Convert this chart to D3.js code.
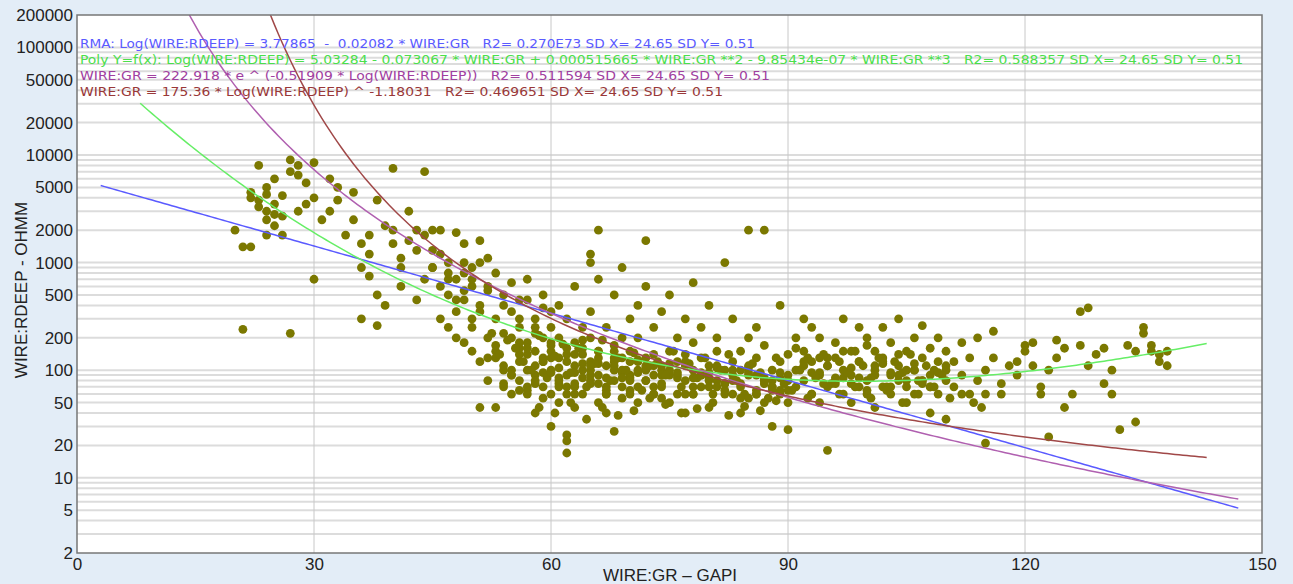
<!DOCTYPE html>
<html><head><meta charset="utf-8">
<script src="https://cdn.jsdelivr.net/npm/d3@7"></script>
<style>body{margin:0;background:#e3edf7;}svg{display:block}</style>
</head><body><svg id="c" width="1293" height="584"></svg>
<script>
const xTicks=[0,30,60,90,120,150];
const yTicks=[2,5,10,20,50,100,200,500,1000,2000,5000,10000,20000,50000,100000,200000];
const legendTexts=[
"RMA: Log(WIRE:RDEEP) = 3.77865  -  0.02082 * WIRE:GR   R2= 0.270E73 SD X= 24.65 SD Y= 0.51",
"Poly Y=f(x): Log(WIRE:RDEEP) = 5.03284 - 0.073067 * WIRE:GR + 0.000515665 * WIRE:GR **2 - 9.85434e-07 * WIRE:GR **3   R2= 0.588357 SD X= 24.65 SD Y= 0.51",
"WIRE:GR = 222.918 * e ^ (-0.51909 * Log(WIRE:RDEEP))   R2= 0.511594 SD X= 24.65 SD Y= 0.51",
"WIRE:GR = 175.36 * Log(WIRE:RDEEP) ^ -1.18031   R2= 0.469651 SD X= 24.65 SD Y= 0.51"];
const legendColors=["#5a5aff","#4be04b","#a040a0","#993838"];
const legendLens=[675,1163,690,643];
// fit coefficients shown in legend
const rmaCoef=[3.77865,-0.02082];
const polyCoef=[5.03284,-0.073067,0.000515665,-9.85434e-7];
const expCoef=[222.918,-0.51909];
const powCoef=[175.36,-1.18031];
const gr=[20,21,22,22,23,23,24,24,24,25,25,25,26,26,27,27,28,28,28,29,29,30,30,31,32,32,33,33,34,35,35,21,27,30,24,26,23,24,22,25,
36,36,37,37,38,38,39,40,40,41,41,42,42,43,43,44,44,45,45,36,38,37,39,40,41,43,44,45,46,46,47,47,48,48,49,49,50,50,51,51,
46,47,48,48,49,49,50,50,51,51,52,52,52,53,53,54,54,55,55,55,53,54,51,47,49,50,52,54,56,53,
56,56,56,56,57,57,57,57,58,58,58,58,59,59,59,59,60,60,60,60,60,61,61,61,61,61,62,62,62,62,62,62,63,63,63,63,63,64,64,64,64,65,65,65,65,65,65,66,66,66,66,66,67,67,67,67,68,68,68,68,68,69,69,69,69,70,70,70,70,71,71,71,71,72,72,72,72,73,73,73,74,74,74,75,75,75,75,
57,58,59,60,61,62,63,64,65,66,67,68,69,70,71,72,73,74,56,58,60,62,64,66,68,70,72,74,57,59,61,63,65,67,69,71,73,55,
76,76,76,77,77,77,77,78,78,78,78,79,79,79,80,80,80,80,81,81,81,82,82,82,83,83,83,84,84,84,85,85,85,85,86,86,86,87,87,87,87,88,88,88,89,89,89,90,90,90,90,
76,78,80,82,84,86,88,77,79,81,83,85,87,89,
91,91,91,92,92,92,93,93,93,94,94,94,95,95,95,96,96,96,97,97,97,98,98,98,99,99,99,100,100,100,101,101,101,102,102,102,103,103,103,104,104,104,105,105,105,106,106,106,107,107,107,108,108,108,109,109,109,110,110,110,
92,94,96,98,100,102,104,106,108,93,95,97,99,101,103,105,107,
110,111,111,112,112,113,113,114,114,115,115,115,116,116,117,117,118,119,119,120,120,121,121,122,122,123,123,124,124,125,125,126,127,127,128,128,129,130,130,131,131,132,133,134,134,135,135,136,136,137,137,138,138,
52,53,54,55,56,57,58,59,60,61,62,63,64,65,66,67,68,69,70,71,72,73,74,75,76,77,78,79,80,81,82,83,84,85,86,87,88,89,90,
52.5,53.5,54.5,55.5,56.5,57.5,58.5,59.5,60.5,61.5,62.5,63.5,64.5,65.5,66.5,67.5,68.5,69.5,70.5,71.5,72.5,73.5,74.5,75.5,76.5,77.5,78.5,79.5,80.5,81.5,82.5,83.5,84.5,85.5,86.5,87.5,88.5,89.5,
54,56,58,60,62,64,66,68,70,72,74,76,78,80,82,84,86,88,90,55,57,59,61,63,65,67,69,71,73,75,77,79,81,83,85,87,89,
91.5,92.5,93.5,94.5,95.5,96.5,97.5,98.5,99.5,100.5,101.5,102.5,103.5,104.5,105.5,106.5,107.5,108.5,109.5,
91,92,93,94,95,96,97,98,99,100,101,102,103,104,105,106,107,108,109,110,
90.5,92.5,94.5,96.5,98.5,100.5,102.5,104.5,106.5,108.5,110.5,112,113.5,114.5,
58.5,60.5,62.5,64.5,66.5,68.5,70.5,72.5,74.5,76.5,78.5,80.5,82.5,84.5,86.5,88.5,
45,46,47,48,49,50,51,52,53,54,55,56,57,58,59,60];
const rdeep=[2000,1400,1400,4000,3800,8000,3000,2500,5000,6000,2200,3500,4200,2700,9000,7000,8000,6500,3000,5500,3500,4000,8500,2500,3000,6000,5000,3800,1800,2500,4500,240,220,700,1800,1800,3300,4300,4500,2800,
1500,900,1200,750,3800,500,2200,7500,2000,1100,600,3000,1600,1300,450,7000,700,2000,1300,300,260,1800,400,1500,900,2000,1800,900,2000,1200,500,1000,1900,700,800,1500,300,600,1600,1000,
300,250,350,200,180,450,150,250,120,400,80,200,600,150,300,100,500,60,200,350,45,70,45,700,550,900,1100,220,160,130,
120,250,450,80,100,180,60,700,150,300,90,40,120,200,500,70,60,100,150,250,30,80,130,200,400,50,25,17,22,90,160,300,70,110,180,600,45,100,140,250,60,80,120,200,350,1200,1000,50,90,150,700,2000,110,60,250,40,100,170,80,500,27,130,200,70,900,150,90,60,300,120,200,50,400,100,80,1600,600,140,60,250,110,70,350,90,150,50,500,
140,110,95,130,85,120,75,160,100,115,70,130,95,85,125,105,90,100,180,220,170,140,190,130,150,120,110,90,65,55,70,60,75,65,55,70,60,100,
120,60,200,80,140,40,300,100,60,180,650,90,130,250,70,110,45,400,80,150,200,100,60,1000,120,80,300,70,150,40,90,110,200,2000,60,130,250,80,170,2000,50,100,70,30,120,60,400,90,140,50,28,
90,85,95,75,100,65,80,110,70,105,60,95,75,85,
100,70,200,80,150,300,60,120,250,90,200,50,110,70,18,130,80,180,60,100,300,90,150,50,120,70,250,80,200,60,100,150,45,70,130,250,90,60,180,110,80,300,70,150,50,100,200,60,130,80,260,90,70,40,120,60,200,100,80,35,
110,95,85,75,65,115,90,100,70,60,130,85,120,110,95,80,75,
150,120,70,180,90,60,130,200,80,60,100,21,230,130,75,60,110,90,120,170,150,180,110,70,60,24,100,190,130,160,45,60,350,170,380,110,140,160,75,60,100,28,170,33,150,250,220,170,150,140,120,150,110,
130,170,110,90,140,160,75,120,180,105,70,140,115,90,150,85,120,100,80,95,130,110,75,100,85,120,70,95,80,110,65,90,75,105,60,85,70,95,65,
220,140,190,160,120,100,210,85,135,175,95,160,70,115,190,80,130,100,145,65,110,120,90,150,70,115,85,130,60,100,140,80,60,115,95,55,130,75,
75,65,80,95,60,85,75,110,65,80,55,95,60,85,75,55,90,65,80,90,70,130,75,95,110,60,85,100,70,115,60,90,70,100,55,80,65,
100,130,85,140,75,120,95,150,110,85,130,70,120,95,140,80,110,100,90,
160,120,95,130,110,75,150,105,85,170,90,120,70,140,100,115,80,160,95,110,
65,55,75,60,70,55,65,50,60,70,55,60,50,45,
45,40,50,35,45,38,42,55,48,40,44,50,38,46,42,52,
900,600,800,450,1000,700,350,550,800,400,650,300,450,250,380,350];

const W=1293,H=584,L=77,R=1262,T=15,B=553;
const svg=d3.select("#c");
const x=d3.scaleLinear().domain([0,150]).range([L,R]);
const y=d3.scaleLog().domain([2,200000]).range([B,T]);
svg.append("rect").attr("x",L).attr("y",T).attr("width",R-L).attr("height",B-T).attr("fill","#fff");
const minors=[];
for(let e=0;e<=5;e++)for(let m=1;m<=9;m++){const v=m*Math.pow(10,e);if(v>2&&v<200000)minors.push(v);}
svg.append("g").selectAll("line").data(minors).join("line")
 .attr("x1",L).attr("x2",R).attr("y1",d=>y(d)).attr("y2",d=>y(d))
 .attr("stroke","#dcdcdc").attr("stroke-width",2);
svg.append("g").selectAll("line").data(xTicks.slice(1,-1)).join("line")
 .attr("x1",d=>x(d)).attr("x2",d=>x(d)).attr("y1",T).attr("y2",B).attr("stroke","#c8c8c8").attr("stroke-width",1);
const ya=svg.append("g").attr("transform",`translate(${L},0)`).call(d3.axisLeft(y).tickValues(yTicks).tickFormat(d3.format("d")).tickSize(0).tickPadding(4));
const xa=svg.append("g").attr("transform",`translate(0,${B})`).call(d3.axisBottom(x).tickValues(xTicks).tickSize(0).tickPadding(5));
[ya,xa].forEach(a=>{a.select(".domain").remove();a.selectAll("text").attr("font-family","Liberation Sans, Arial").attr("font-size",17).attr("fill","#222");});
svg.append("g").selectAll("circle").data(gr.map((g,i)=>[g,rdeep[i]])).join("circle")
 .attr("cx",d=>x(d[0])).attr("cy",d=>y(d[1])).attr("r",4.4).attr("fill","#7b7800");
svg.append("clipPath").attr("id","pc").append("rect").attr("x",L).attr("y",T).attr("width",R-L).attr("height",B-T);
const line=d3.line().x(d=>x(d[0])).y(d=>y(d[1]));
function samp(a,b,f){const p=[];for(let g=a;g<=b+1e-9;g+=0.5)p.push([g,f(g)]);return p;}
const curves=[
 [samp(3,147,g=>Math.pow(10,rmaCoef[0]+rmaCoef[1]*g)),legendColors[0]],
 [samp(8,143,g=>Math.pow(10,polyCoef[0]+polyCoef[1]*g+polyCoef[2]*g*g+polyCoef[3]*g*g*g)),"#66ee66"],
 [samp(12,147,g=>Math.pow(10,-Math.log(g/expCoef[0])/(-expCoef[1]))),"#b060b0"],
 [samp(20,143,g=>Math.pow(10,Math.pow(g/powCoef[0],1/powCoef[1]))),"#a04848"]];
svg.append("g").attr("clip-path","url(#pc)").selectAll("path").data(curves).join("path")
 .attr("d",d=>line(d[0].filter(p=>p[1]<1e7))).attr("fill","none").attr("stroke",d=>d[1]).attr("stroke-width",1.5);
svg.append("g").selectAll("text").data(legendTexts).join("text")
 .attr("x",80).attr("y",(d,i)=>48+i*16).text(d=>d).attr("fill",(d,i)=>legendColors[i])
 .style("white-space","pre")
 .attr("font-family","DejaVu Sans Condensed, Liberation Sans").attr("font-size",12)
 .attr("textLength",(d,i)=>legendLens[i]).attr("lengthAdjust","spacingAndGlyphs");
svg.append("rect").attr("x",L).attr("y",T).attr("width",R-L).attr("height",B-T).attr("fill","none").attr("stroke","#777").attr("stroke-width",1.5);
svg.append("text").attr("x",670).attr("y",581).attr("text-anchor","middle").text("WIRE:GR – GAPI")
 .attr("font-family","Liberation Sans, Arial").attr("font-size",17).attr("fill","#222");
svg.append("text").attr("transform","translate(27,290) rotate(-90)").attr("text-anchor","middle").text("WIRE:RDEEP - OHMM")
 .attr("font-family","Liberation Sans, Arial").attr("font-size",17).attr("fill","#222");
</script></body></html>
